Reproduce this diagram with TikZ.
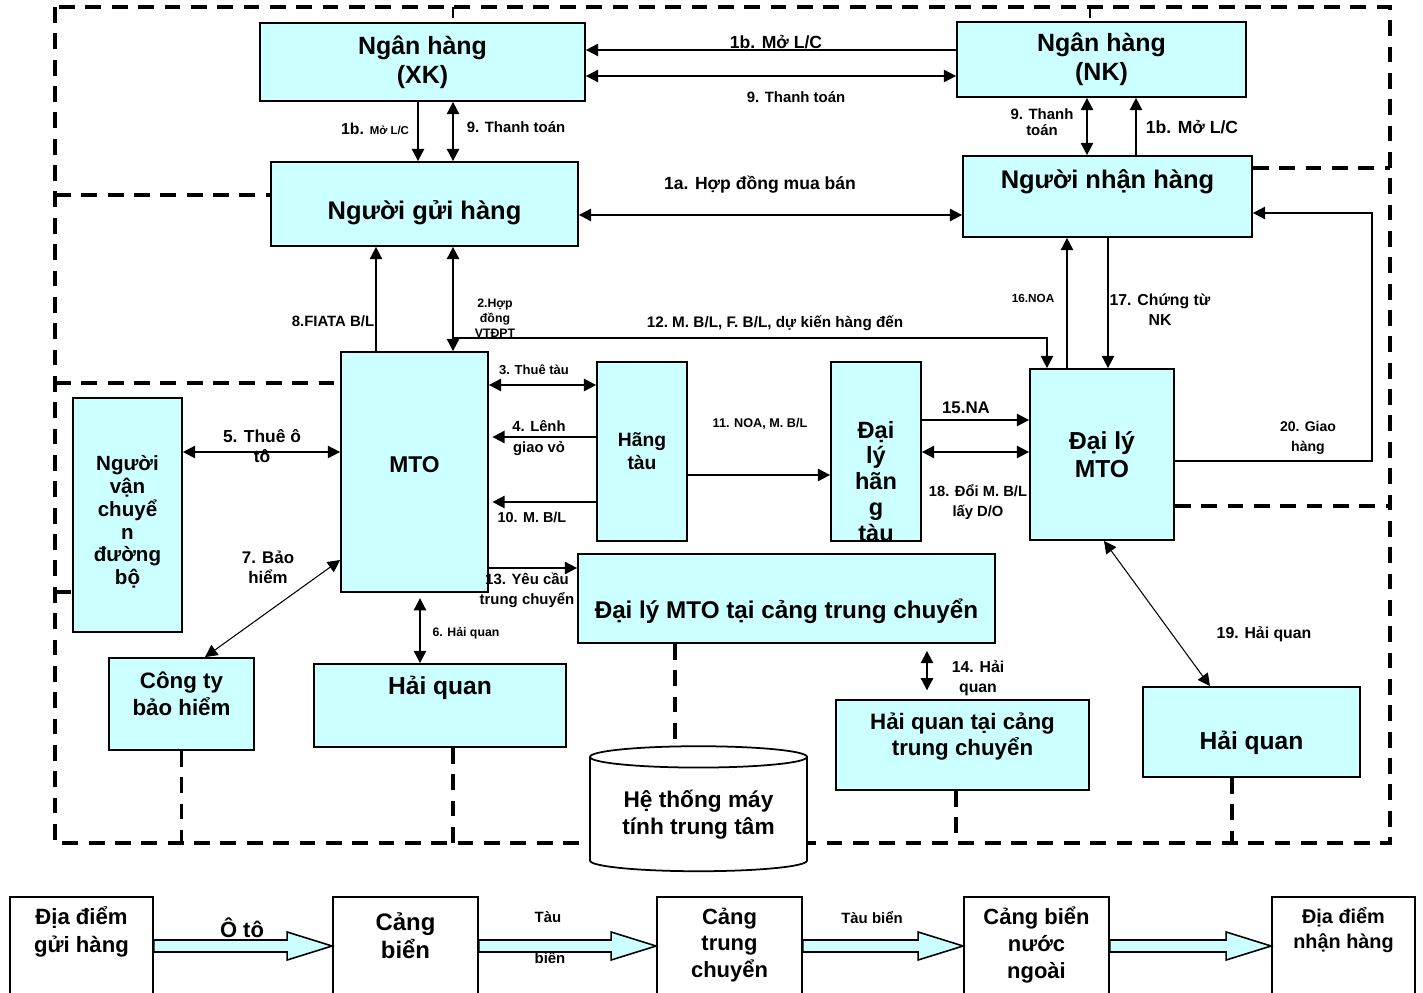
\documentclass[tikz,border=0pt]{standalone}
\usepackage{fontspec}
\setmainfont{Liberation Sans}
\usetikzlibrary{arrows.meta, positioning, calc, shapes.geometric, backgrounds}
\definecolor{boxc}{RGB}{204,255,255}
\definecolor{inkc}{RGB}{0,0,0}
\tikzset{
  box/.style={rectangle, draw=inkc, line width=1pt, fill=boxc,
    align=center, inner sep=0pt, text=inkc},
  place/.style={rectangle, draw=inkc, line width=1pt, fill=white,
    align=center, inner sep=0pt, text=inkc},
  sz/.style 2 args={minimum width=#1*0.02cm, minimum height=#2*0.02cm},
  fs/.style 2 args={font=\bfseries\fontsize{#1}{#2}\selectfont},
  txt/.style n args={3}{label={[align=center, text=inkc, inner sep=0pt,
    fs=#1, shift={(0,#2)}]center:#3}},
  arr/.style={-{Triangle[length=7pt, width=7pt]}, line width=1.1pt, draw=inkc},
  darr/.style={{Triangle[length=7pt, width=7pt]}-{Triangle[length=7pt, width=7pt]},
    line width=1.1pt, draw=inkc},
  hair/.style={line width=0.6pt},
  lbl/.style={align=center, inner sep=0pt, text=inkc},
  bnd/.style={draw=inkc, line width=2.2pt, dash pattern=on 9pt off 6pt},
  fat/.style={draw=inkc, line width=0.9pt, fill=boxc},
}
% wide hollow arrow of the transport chain
\newcommand{\fatarr}[2]{%
  \draw[fat] (#1.east |- 0,940) -- ($(#2.west |- 0,940)+(-45,0)$) -- ++(0,-8)
    -- (#2.west |- 0,946) -- ($(#2.west |- 0,946)+(-45,14)$) -- ++(0,-8)
    -- (#1.east |- 0,952) -- cycle;}

\begin{document}
\begin{tikzpicture}[x=0.02cm, y=-0.02cm]
  \useasboundingbox (0,0) rectangle (1423,993);
  \clip (0,0) rectangle (1423,993);

  \node[box, sz={325}{78}, fs={14.2}{16.4}] (bxk) at (422.5,62) {Ngân hàng\\(XK)};
  \node[box, sz={289}{75}, fs={14.2}{16.4}] (bnk) at (1101.5,59.5) {Ngân hàng\\(NK)};
  \node[box, sz={307}{84}, txt={{14.5}{17}}{9}{Người gửi hàng}] (nguoigui) at (424.5,204) {};
  \node[box, sz={289}{81}, txt={{14.5}{17}}{-14.5}{Người nhận hàng}] (nguoinhan) at (1107.5,196.5) {};

  \node[box, sz={147}{240}, txt={{13}{15}}{-7}{MTO}] (mto) at (414.5,472) {};
  \node[box, sz={109}{234}, txt={{11.7}{13}}{7}{Người\\vận\\chuyể\\n\\đường\\bộ}] (vantai) at (127.5,515) {};
  \node[box, sz={90}{179}, fs={11}{13}] (hangtau) at (642,451.5) {Hãng\\tàu};
  \node[box, sz={90}{179},
    path picture={\node[lbl, fs={13.4}{14.7}] (dlhttxt)
      at ([yshift=-17pt]path picture bounding box.center) {Đại\\lý\\hãn\\g\\tàu};}]
    (dlhangtau) at (876,451.5) {};
  \node[box, sz={144}{171}, fs={14}{16}] (dlmto) at (1102,454.5) {Đại lý\\MTO};
  \node[box, sz={417}{89}, txt={{13.8}{16}}{12.5}{Đại lý MTO tại cảng trung chuyển}] (dlcang) at (786.5,598.5) {};

  \node[box, sz={145}{92}, txt={{12.7}{15.3}}{-10.5}{Công ty\\bảo hiểm}] (baohiem) at (181.5,704) {};
  \node[box, sz={252}{83}, txt={{14}{16}}{-17.5}{Hải quan}] (haiquan) at (440,705.5) {};
  \node[box, sz={253}{90}, txt={{12.7}{15.3}}{-8.5}{Hải quan tại cảng\\trung chuyển}] (hqcang) at (962.5,745) {};
  \node[box, sz={217}{90}, txt={{14}{16}}{11}{Hải quan}] (hqdich) at (1251.5,732) {};
  \node[cylinder, shape border rotate=90, aspect=0.14, draw=inkc, line width=1pt, fill=white,
    sz={217}{125}, fs={12.9}{15.3}, align=center, inner sep=0pt] (maytinh) at (698.5,814.5)
    {Hệ thống máy\\tính trung tâm};

  % boundaries of the parties
  \begin{scope}[on background layer]
    \draw[bnd] (55,7) rectangle (1390,843);
    \draw[bnd] (55,195) -- (nguoigui.west |- 0,195);
    \draw[bnd] (nguoinhan.east |- 0,168) -- (1390,168);
    \draw[bnd] (55,383) -- (mto.west |- 0,383);
    \draw[bnd] (dlmto.east |- 0,506) -- (1390,506);
    \draw[bnd] (55,592) -- (vantai.west |- 0,592);
    \draw[bnd] (baohiem.south) -- (baohiem.south |- 0,843);
    \draw[bnd] (haiquan.south -| 453,0) -- (453,843);
    \draw[bnd] (dlcang.south -| 675,0) -- (675,790);
    \draw[bnd] (hqcang.south -| 956,0) -- (956,843);
    \draw[bnd] (hqdich.south -| 1232,0) -- (1232,843);
    \draw[line width=0.8pt] (453,7) -- (453,18);
    \draw[line width=0.8pt] (1090,7) -- (1090,18);
  \end{scope}

  \draw[arr] (bnk.west |- 0,50) -- (bxk.east |- 0,50)
    node[lbl, fs={10}{12}] (t1b) at (776,42) {1b. Mở L/C};
  \draw[darr] (bxk.east |- 0,76) -- (bnk.west |- 0,76)
    node[lbl, fs={8.5}{10}] (t9) at (796,97) {9. Thanh toán};
  \draw[arr] (bxk.south -| 418,0) -- (nguoigui.north -| 418,0)
    node[lbl, fs={9}{10}] (t1bx) at (375,129) {1b. {\fontsize{6.5}{8}\selectfont Mở L/C}};
  \draw[darr] (bxk.south -| 453,0) -- (nguoigui.north -| 453,0)
    node[lbl, fs={8.5}{10}] (t9x) at (516,127) {9. Thanh toán};
  \draw[darr] (bnk.south -| 1087,0) -- (nguoinhan.north -| 1087,0)
    node[lbl, fs={8.5}{9}] (t9n) at (1042,122) {9. Thanh\\toán};
  \draw[arr] (nguoinhan.north -| 1136,0) -- (bnk.south -| 1136,0)
    node[lbl, fs={10}{12}] (t1bn) at (1192,127) {1b. Mở L/C};
  \draw[darr] (nguoigui.east |- 0,215) -- (nguoinhan.west |- 0,215)
    node[lbl, fs={10}{12}] (t1a) at (760,185) {1a. Hợp đồng mua bán};

  \draw[arr] (mto.north -| 376,0) -- (nguoigui.south -| 376,0)
    node[lbl, fs={8.5}{10}] (t8) at (333,321) {8.FIATA B/L};
  \draw[darr] (nguoigui.south -| 453,0) -- (mto.north -| 453,0)
    node[lbl, fs={7}{8.5}] (t2) at (495,318) {2.Hợp\\đồng\\VTĐPT};
  \coordinate (c12) at ($(mto.north -| 453,0)+(0,-13)$);
  \draw[arr] (c12) -| (dlmto.north -| 1047,0)
    node[lbl, fs={8.7}{10}] (t12) at (775,323) {12.\ M. B/L, F. B/L, dự kiến hàng đến};
  \draw[arr] (dlmto.north -| 1067,0) -- (nguoinhan.south -| 1067,0)
    node[lbl, fs={6.7}{8}] (t16) at (1033,298) {16.NOA};
  \draw[arr] (nguoinhan.south -| 1108,0) -- (dlmto.north -| 1108,0)
    node[lbl, fs={9}{11.5}] (t17) at (1160,310) {17. Chứng từ\\NK};
  \coordinate (c20) at (1372,213);
  \draw[arr] (dlmto.east |- 0,461) -| (c20) -- (nguoinhan.east |- c20)
    node[lbl, fs={8}{11.5}] (t20) at (1308,438) {20. Giao\\hàng};

  \draw[darr] (mto.east |- 0,385) -- (hangtau.west |- 0,385)
    node[lbl, fs={7.4}{9}] (t3) at (534,370) {3. Thuê tàu};
  \draw[arr, shorten >=2pt] (hangtau.west |- 0,437) -- (mto.east |- 0,437)
    node[lbl, fs={8.4}{11.5}] (t4) at (539,438) {4. Lênh\\giao vỏ};
  \draw[arr, shorten >=2pt] (hangtau.west |- 0,502) -- (mto.east |- 0,502)
    node[lbl, fs={8.2}{10}] (t10) at (532,517) {10. M. B/L};
  \draw[arr] (hangtau.east |- 0,475) -- (dlhangtau.west |- 0,475)
    node[lbl, fs={7.2}{9}] (t11) at (760,424) {11. NOA, M. B/L};
  \draw[arr] (dlhangtau.east |- 0,420) -- (dlmto.west |- 0,420)
    node[lbl, fs={9.6}{11}] (t15) at (966,408) {15.NA};
  \draw[darr] (dlhangtau.east |- 0,452) -- (dlmto.west |- 0,452)
    node[lbl, fs={8.4}{11.5}] (t18) at (978,502) {18. Đổi M. B/L\\lấy D/O};

  \draw[darr] (vantai.east |- 0,452) -- (mto.west |- 0,452)
    node[lbl, fs={9.9}{11.8}] (t5) at (262,446) {5. Thuê ô\\tô};
  \draw[darr, hair] (baohiem.north -| 205,0) -- (mto.west |- 0,560)
    node[lbl, fs={9.6}{11.5}] (t7) at (268,567) {7. Bảo\\hiểm};
  \draw[darr, shorten <=3pt] (mto.south -| 420,0) -- (haiquan.north -| 420,0)
    node[lbl, fs={7}{8.5}] (t6) at (466,633) {6. Hải quan};
  \draw[arr] (mto.east |- 0,568) -- (dlcang.west |- 0,568)
    node[lbl, fs={8.5}{11.5}] (t13) at (527,590) {13. Yêu cầu\\trung chuyển};
  \draw[darr, shorten <=4pt, shorten >=5pt] (dlcang.south -| 927,0) -- (hqcang.north -| 927,0)
    node[lbl, fs={9}{11.5}] (t14) at (978,678) {14. Hải\\quan};
  \draw[darr, hair] (dlmto.south -| 1104,0) -- (hqdich.north -| 1210,0)
    node[lbl, fs={9}{11}] (t19) at (1264,634) {19. Hải quan};

  % transport chain
  \node[place, sz={143}{113}, txt={{12.6}{15.9}}{-21.5}{Địa điểm\\gửi hàng}] (ddgui) at (81.5,953.5) {};
  \node[place, sz={145}{113}, txt={{13.6}{16}}{-17.5}{Cảng\\biển}] (cangbien) at (405.5,953.5) {};
  \node[place, sz={145}{113}, txt={{12.5}{15.3}}{-8.5}{Cảng\\trung\\chuyển}] (cangtc) at (729.5,953.5) {};
  \node[place, sz={145}{113}, txt={{12.5}{15.3}}{-8.5}{Cảng biển\\nước\\ngoài}] (cangnn) at (1036.5,953.5) {};
  \node[place, sz={143}{113}, txt={{11.3}{14.2}}{-23.5}{Địa điểm\\nhận hàng}] (ddnhan) at (1343.5,953.5) {};

  \fatarr{ddgui}{cangbien}
  \fatarr{cangbien}{cangtc}
  \fatarr{cangtc}{cangnn}
  \fatarr{cangnn}{ddnhan}

  \node[lbl, fs={12.5}{14}] (toto) at (242,928) {Ô tô};
  \node[lbl, fs={8.5}{10}] (ttau) at (548,917) {Tàu};
  \node[lbl, fs={8.5}{10}] (tbien) at (550,958) {biển};
  \node[lbl, fs={8.5}{10}] (ttaubien) at (872,918) {Tàu biển};

\end{tikzpicture}
\end{document}
